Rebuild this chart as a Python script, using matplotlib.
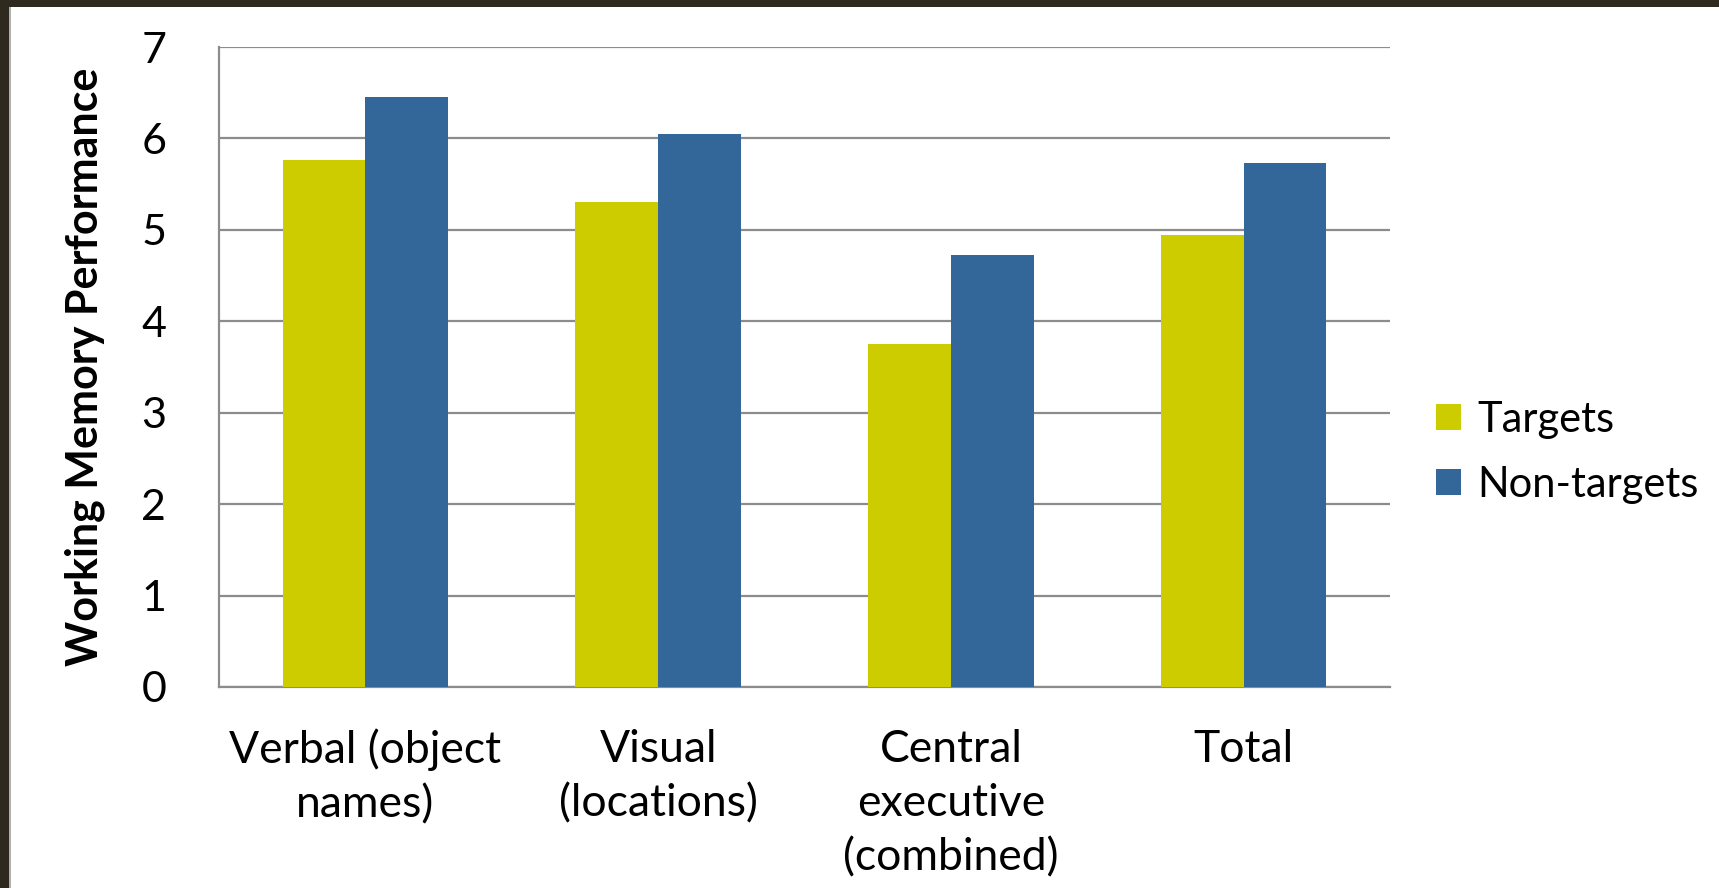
import numpy as np
import matplotlib.pyplot as plt
from matplotlib.patches import Rectangle

categories = ["Verbal (object\nnames)", "Visual\n(locations)", "Central\nexecutive\n(combined)", "Total"]
targets = [5.77, 5.30, 3.75, 4.94]
non_targets = [6.45, 6.05, 4.72, 5.73]
yticks = [0, 1, 2, 3, 4, 5, 6, 7]

plt.rcParams["font.family"] = ["Lato", "DejaVu Sans"]

fig = plt.figure(figsize=(17.19, 8.88), dpi=100)
fig.patch.set_facecolor("white")

# dark slide frame on top and left
fig.patches.append(Rectangle((0, 1 - 7 / 888), 1, 7 / 888, transform=fig.transFigure,
                             facecolor="#2e2a20", edgecolor="none", zorder=0))
fig.patches.append(Rectangle((0, 0), 9 / 1719, 1, transform=fig.transFigure,
                             facecolor="#2e2a20", edgecolor="none", zorder=0))
fig.patches.append(Rectangle((9 / 1719, 0), 1.5 / 1719, 1 - 7 / 888, transform=fig.transFigure,
                             facecolor="#b0b0b0", edgecolor="none", zorder=0))

ax = fig.add_axes([0.1274, 0.2264, 0.6812, 0.7206])

x = np.arange(len(categories))
w = 0.283
ax.bar(x - w / 2, targets, w, color="#cccc00", label="Targets", zorder=3)
ax.bar(x + w / 2, non_targets, w, color="#336699", label="Non-targets", zorder=3)

ax.set_xlim(-0.5, len(categories) - 0.5)
ax.set_ylim(0, 7)
ax.set_yticks(yticks)
ax.yaxis.grid(True, color="#8c8c8c", linewidth=1.6, zorder=0)
ax.set_axisbelow(True)

for s in ["top", "right"]:
    ax.spines[s].set_visible(False)
for s in ["left", "bottom"]:
    ax.spines[s].set_color("#8c8c8c")
    ax.spines[s].set_linewidth(1.6)

ax.tick_params(axis="y", length=0, pad=38, labelsize=31)
ax.tick_params(axis="x", length=0, pad=30, labelsize=32)
ax.set_xticks(x)
ax.set_xticklabels(categories, linespacing=1.4)

ax.set_ylabel("Working Memory Performance", fontsize=31, fontweight="bold", labelpad=26)

ax.legend(loc="center left", bbox_to_anchor=(1.039, 0.367), frameon=False, fontsize=30,
          borderaxespad=0, borderpad=0,
          handlelength=0.6, handleheight=0.6, handletextpad=0.4, labelspacing=0.65)

fig.savefig("out.png", dpi=100)
